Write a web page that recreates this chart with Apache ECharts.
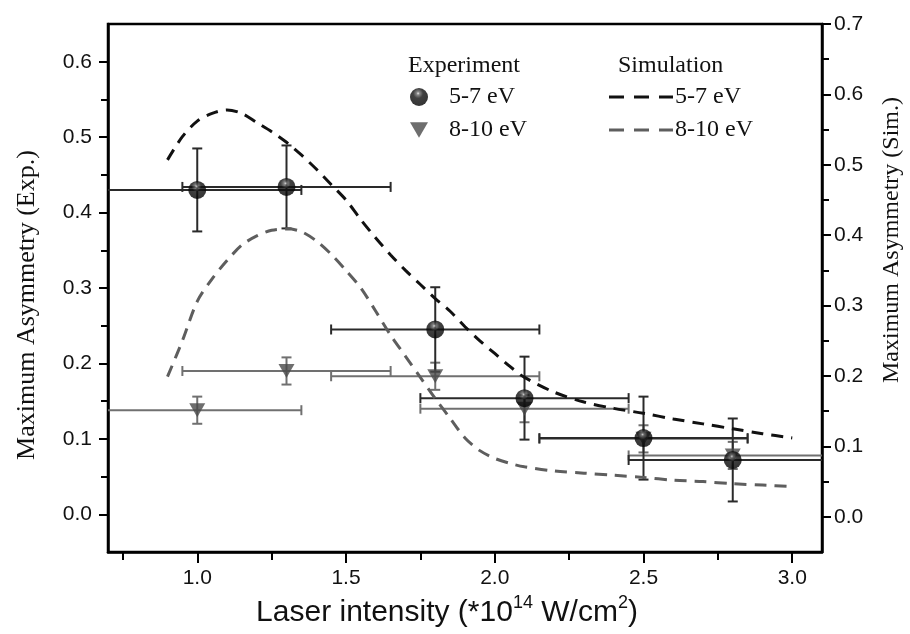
<!DOCTYPE html>
<html>
<head>
<meta charset="utf-8">
<script src="https://cdn.jsdelivr.net/npm/echarts@6/dist/echarts.min.js"></script>
<style>
html,body{margin:0;padding:0;background:#fff;}
#main{width:910px;height:634px;}
</style>
</head>
<body>
<div id="main"></div>
<script>
// ---------- data ----------
const expX = [1.0, 1.3, 1.8, 2.1, 2.5, 2.8];
const expXErr = [0.35, 0.35, 0.35, 0.35, 0.35, 0.35];
const exp57 = [0.430, 0.434, 0.245, 0.154, 0.101, 0.072];
const exp57Err = [0.055, 0.055, 0.056, 0.055, 0.055, 0.055];
const exp810 = [0.138, 0.190, 0.183, 0.140, 0.100, 0.078];
const exp810Err = [0.018, 0.018, 0.018, 0.018, 0.018, 0.018];

const simX = [0.9, 0.95, 1.0, 1.05, 1.1, 1.15, 1.2, 1.25, 1.3, 1.35, 1.4, 1.45, 1.5, 1.55, 1.6, 1.65, 1.7, 1.75, 1.8, 1.85, 1.9, 1.95, 2.0, 2.05, 2.1, 2.2, 2.3, 2.4, 2.5, 2.6, 2.7, 2.8, 2.9, 3.0];
const sim57 = [0.507, 0.540, 0.562, 0.573, 0.578, 0.573, 0.560, 0.547, 0.532, 0.514, 0.494, 0.472, 0.450, 0.422, 0.396, 0.372, 0.350, 0.330, 0.310, 0.292, 0.270, 0.250, 0.232, 0.214, 0.198, 0.177, 0.163, 0.154, 0.147, 0.139, 0.132, 0.125, 0.118, 0.112];
const sim810 = [0.199, 0.250, 0.306, 0.338, 0.364, 0.386, 0.399, 0.407, 0.409, 0.405, 0.392, 0.373, 0.350, 0.325, 0.292, 0.258, 0.228, 0.198, 0.168, 0.140, 0.112, 0.094, 0.083, 0.076, 0.071, 0.065, 0.062, 0.059, 0.056, 0.052, 0.050, 0.047, 0.045, 0.043];

const xMajorTicks = [1.0, 1.5, 2.0, 2.5, 3.0];
const xMinorTicks = [0.75, 1.25, 1.75, 2.25, 2.75];
const yLeftMajor = [0.0, 0.1, 0.2, 0.3, 0.4, 0.5, 0.6];
const yLeftMinor = [0.05, 0.15, 0.25, 0.35, 0.45, 0.55];
const yRightMajor = [0.0, 0.1, 0.2, 0.3, 0.4, 0.5, 0.6, 0.7];
const yRightMinor = [0.05, 0.15, 0.25, 0.35, 0.45, 0.55, 0.65];

const legendNames = {exp57: '5-7 eV', exp810: '8-10 eV', sim57: '5-7 eV', sim810: '8-10 eV'};

// ---------- build ----------
const chart = echarts.init(document.getElementById('main'), null, {renderer: 'canvas'});

function errData(ys, yerr) {
  return expX.map((x, i) => [x, ys[i], expXErr[i], yerr[i]]);
}
function makeErr(color) {
  return function (params, api) {
    const x = api.value(0), y = api.value(1), xe = api.value(2), ye = api.value(3);
    const l = api.coord([x - xe, y]), r = api.coord([x + xe, y]);
    const t = api.coord([x, y + ye]), b = api.coord([x, y - ye]);
    const cap = 5;
    const st = {stroke: color, lineWidth: 2, fill: null};
    const ln = (x1, y1, x2, y2) => ({type: 'line', shape: {x1, y1, x2, y2}, style: st});
    return {type: 'group', children: [
      ln(l[0], l[1], r[0], r[1]),
      ln(l[0], l[1] - cap, l[0], l[1] + cap),
      ln(r[0], r[1] - cap, r[0], r[1] + cap),
      ln(t[0], t[1], b[0], b[1]),
      ln(t[0] - cap, t[1], t[0] + cap, t[1]),
      ln(b[0] - cap, b[1], b[0] + cap, b[1])
    ]};
  };
}

const sphere = new echarts.graphic.RadialGradient(0.45, 0.3, 0.72, [
  {offset: 0, color: '#e6e6e6'},
  {offset: 0.12, color: '#6a6a6a'},
  {offset: 0.38, color: '#111111'},
  {offset: 1, color: '#000000'}
]);
const triPath = 'path://M0,0L20,0L10,17Z';
const dashIcon = 'path://M0,0h15v3h-15zM25,0h15v3h-15zM50,0h14v3h-14z';

const tickFont = {fontFamily: 'Liberation Sans', fontSize: 21, color: '#111'};
const serif = 'Liberation Serif';

function tickAxis(extra) {
  return Object.assign({
    type: 'value',
    show: true,
    axisLine: {show: false, onZero: false},
    splitLine: {show: false},
    axisLabel: {show: false},
  }, extra);
}

const option = {
  backgroundColor: '#ffffff',
  animation: false,
  grid: {left: 108, right: 88, top: 24, bottom: 82, outerBoundsMode: 'none', containLabel: false,
    show: true, borderColor: '#000', borderWidth: 2.5, backgroundColor: 'transparent'},
  title: [
    {text: 'Experiment', left: 408, top: 54, padding: 0, textStyle: {fontFamily: serif, fontSize: 24, fontWeight: 'normal', color: '#111'}},
    {text: 'Simulation', left: 618, top: 54, padding: 0, textStyle: {fontFamily: serif, fontSize: 24, fontWeight: 'normal', color: '#111'}}
  ],
  legend: [
    {
      left: 410, top: 85, orient: 'vertical', padding: 0, itemWidth: 18, itemHeight: 18, itemGap: 9,
      selectedMode: false,
      data: [{name: 'exp57', icon: 'circle'}, {name: 'exp810', icon: triPath}],
      formatter: n => legendNames[n],
      textStyle: {fontFamily: serif, fontSize: 24, lineHeight: 24, color: '#111', padding: [0, 0, 0, 16]}
    },
    {
      left: 609, top: 85, orient: 'vertical', padding: 0, itemWidth: 64, itemHeight: 3, itemGap: 9,
      selectedMode: false,
      data: [{name: 'sim57', icon: dashIcon}, {name: 'sim810', icon: dashIcon}],
      formatter: n => legendNames[n],
      textStyle: {fontFamily: serif, fontSize: 24, lineHeight: 24, color: '#111', padding: [0, 0, 0, -3]}
    }
  ],
  xAxis: [
    {
      type: 'value', min: 0.7, max: 3.1, position: 'bottom',
      name: 'Laser intensity (*10{sup|14} W/cm{sup|2})',
      nameLocation: 'middle', nameGap: 41,
      nameTextStyle: {fontFamily: 'Liberation Sans', fontSize: 30, color: '#111', lineHeight: 38, padding: [0, 36, 0, 0],
        rich: {sup: {fontFamily: 'Liberation Sans', fontSize: 18, color: '#111', verticalAlign: 'top'}}},
      axisLine: {show: true, onZero: false, lineStyle: {color: '#000', width: 2.5}},
      axisTick: {show: true, inside: false, length: 11, lineStyle: {color: '#000', width: 2}, customValues: xMajorTicks},
      axisLabel: Object.assign({margin: 16, customValues: xMajorTicks, formatter: v => v.toFixed(1)}, tickFont),
      splitLine: {show: false}
    },
    tickAxis({min: 0.7, max: 3.1, position: 'bottom',
      axisTick: {show: true, inside: false, length: 8, lineStyle: {color: '#000', width: 2}, customValues: xMinorTicks}})
  ],
  yAxis: [
    {
      type: 'value', min: -0.05, max: 0.65, position: 'left',
      name: 'Maximum Asymmetry (Exp.)', nameLocation: 'middle', nameGap: 68, nameRotate: 90,
      nameTextStyle: {fontFamily: serif, fontSize: 26, color: '#111', padding: [0, 34, 0, 0]},
      axisLine: {show: true, onZero: false, lineStyle: {color: '#000', width: 2.5}},
      axisTick: {show: true, inside: false, length: 9, lineStyle: {color: '#000', width: 2}, customValues: yLeftMajor},
      axisLabel: Object.assign({margin: 16, customValues: yLeftMajor, formatter: v => v.toFixed(1)}, tickFont),
      splitLine: {show: false}
    },
    {
      type: 'value', min: -0.05, max: 0.7, position: 'right',
      name: 'Maximum Asymmetry (Sim.)', nameLocation: 'middle', nameGap: 58, nameRotate: 90,
      nameTextStyle: {fontFamily: serif, fontSize: 24, color: '#111', padding: [0, 0, 0, 96]},
      axisLine: {show: true, onZero: false, lineStyle: {color: '#000', width: 2.5}},
      axisTick: {show: true, inside: false, length: 9, lineStyle: {color: '#000', width: 2}, customValues: yRightMajor},
      axisLabel: Object.assign({margin: 12, customValues: yRightMajor, formatter: v => v.toFixed(1)}, tickFont),
      splitLine: {show: false}
    },
    tickAxis({min: -0.05, max: 0.65, position: 'left',
      axisTick: {show: true, inside: false, length: 7, lineStyle: {color: '#000', width: 2}, customValues: yLeftMinor}}),
    tickAxis({min: -0.05, max: 0.7, position: 'right',
      axisTick: {show: true, inside: false, length: 7, lineStyle: {color: '#000', width: 2}, customValues: yRightMinor}})
  ],
  series: [
    {
      name: 'err810', type: 'custom', xAxisIndex: 0, yAxisIndex: 0, clip: true, z: 2,
      renderItem: makeErr('#707070'), encode: {x: 0, y: 1},
      data: errData(exp810, exp810Err)
    },
    {
      name: 'err57', type: 'custom', xAxisIndex: 0, yAxisIndex: 0, clip: true, z: 2,
      renderItem: makeErr('#2a2a2a'), encode: {x: 0, y: 1},
      data: errData(exp57, exp57Err)
    },
    {
      name: 'sim57', type: 'line', xAxisIndex: 0, yAxisIndex: 1, z: 3,
      showSymbol: false, symbol: 'none', smooth: 0.3,
      lineStyle: {color: '#111', width: 3, type: [12, 8]},
      itemStyle: {color: '#111'},
      data: simX.map((x, i) => [x, sim57[i]])
    },
    {
      name: 'sim810', type: 'line', xAxisIndex: 0, yAxisIndex: 1, z: 3,
      showSymbol: false, symbol: 'none', smooth: 0.3,
      lineStyle: {color: '#5e5e5e', width: 3, type: [12, 8]},
      itemStyle: {color: '#5e5e5e'},
      data: simX.map((x, i) => [x, sim810[i]])
    },
    {
      name: 'exp810', type: 'scatter', xAxisIndex: 0, yAxisIndex: 0, z: 4,
      symbol: triPath, symbolSize: [16, 14],
      itemStyle: {color: '#4a4a4a'},
      data: expX.map((x, i) => [x, exp810[i]])
    },
    {
      name: 'exp57', type: 'scatter', xAxisIndex: 0, yAxisIndex: 0, z: 5,
      symbol: 'circle', symbolSize: 18,
      itemStyle: {color: sphere},
      data: expX.map((x, i) => [x, exp57[i]])
    }
  ]
};
chart.setOption(option);
</script>
</body>
</html>
